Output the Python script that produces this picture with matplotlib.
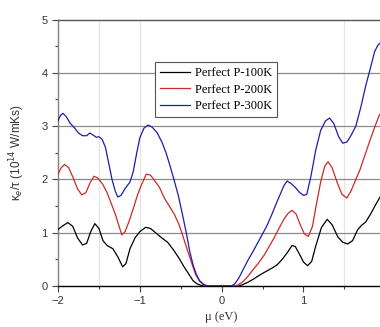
import matplotlib
matplotlib.use("Agg")
import matplotlib.pyplot as plt

# Electronic thermal conductivity (kappa_e / tau) vs chemical potential
mu_100 = [-2.00, -1.95, -1.88, -1.82, -1.76, -1.70, -1.65, -1.60, -1.55, -1.50,
          -1.45, -1.40, -1.33, -1.27, -1.21, -1.17, -1.12, -1.06, -1.00, -0.93,
          -0.87, -0.80, -0.73, -0.66, -0.59, -0.52, -0.46, -0.40, -0.35, -0.30,
          -0.25, -0.20, 0.20, 0.25, 0.32, 0.40, 0.47, 0.55, 0.62, 0.68,
          0.74, 0.80, 0.86, 0.90, 0.95, 1.00, 1.05, 1.10, 1.15, 1.22,
          1.29, 1.35, 1.42, 1.48, 1.54, 1.60, 1.66, 1.71, 1.76, 1.82,
          1.88, 1.94]
k_100 = [1.06, 1.12, 1.19, 1.12, 0.90, 0.77, 0.80, 1.02, 1.17, 1.08,
         0.85, 0.76, 0.70, 0.55, 0.36, 0.42, 0.70, 0.90, 1.02, 1.10,
         1.08, 0.99, 0.90, 0.82, 0.68, 0.52, 0.36, 0.22, 0.10, 0.04,
         0.01, 0.00, 0.00, 0.02, 0.07, 0.14, 0.21, 0.28, 0.34, 0.40,
         0.50, 0.62, 0.76, 0.74, 0.60, 0.45, 0.38, 0.46, 0.75, 1.10,
         1.25, 1.15, 0.92, 0.82, 0.79, 0.85, 1.05, 1.14, 1.20, 1.35,
         1.52, 1.68]

mu_200 = [-2.00, -1.96, -1.92, -1.87, -1.82, -1.76, -1.71, -1.66, -1.61, -1.56,
          -1.51, -1.45, -1.40, -1.35, -1.30, -1.26, -1.22, -1.18, -1.13, -1.08,
          -1.03, -0.98, -0.92, -0.87, -0.82, -0.76, -0.70, -0.64, -0.58, -0.52,
          -0.47, -0.42, -0.37, -0.32, -0.27, -0.22, -0.17, 0.15, 0.20, 0.26,
          0.32, 0.38, 0.45, 0.52, 0.58, 0.64, 0.70, 0.76, 0.81, 0.86,
          0.91, 0.96, 1.01, 1.06, 1.11, 1.16, 1.21, 1.26, 1.30, 1.35,
          1.41, 1.47, 1.53, 1.58, 1.64, 1.69, 1.75, 1.81, 1.87, 1.93]
k_200 = [2.10, 2.22, 2.28, 2.22, 2.05, 1.82, 1.71, 1.75, 1.93, 2.06,
         2.02, 1.90, 1.75, 1.55, 1.35, 1.15, 0.96, 1.02, 1.22, 1.45,
         1.70, 1.90, 2.10, 2.08, 1.98, 1.85, 1.65, 1.50, 1.35, 1.15,
         0.92, 0.68, 0.45, 0.22, 0.09, 0.02, 0.00, 0.00, 0.02, 0.08,
         0.18, 0.30, 0.43, 0.58, 0.74, 0.90, 1.08, 1.25, 1.36, 1.42,
         1.35, 1.15, 0.98, 0.93, 1.12, 1.55, 1.95, 2.25, 2.33, 2.22,
         1.95, 1.72, 1.65, 1.78, 2.00, 2.18, 2.45, 2.72, 2.98, 3.22]

mu_300 = [-2.00, -1.97, -1.94, -1.90, -1.85, -1.80, -1.75, -1.70, -1.65, -1.61,
          -1.57, -1.53, -1.50, -1.46, -1.42, -1.38, -1.34, -1.30, -1.27, -1.23,
          -1.18, -1.12, -1.08, -1.04, -1.00, -0.95, -0.90, -0.85, -0.79, -0.73,
          -0.68, -0.63, -0.58, -0.53, -0.48, -0.43, -0.39, -0.35, -0.31, -0.27,
          -0.22, -0.17, 0.12, 0.16, 0.21, 0.26, 0.32, 0.38, 0.43, 0.49,
          0.55, 0.61, 0.66, 0.71, 0.76, 0.80, 0.85, 0.90, 0.95, 1.00,
          1.04, 1.09, 1.15, 1.21, 1.27, 1.32, 1.37, 1.43, 1.48, 1.53,
          1.58, 1.64, 1.70, 1.76, 1.82, 1.87, 1.91, 1.94]
k_300 = [3.10, 3.20, 3.24, 3.18, 3.05, 2.97, 2.87, 2.82, 2.82, 2.87,
         2.83, 2.79, 2.80, 2.75, 2.60, 2.30, 2.00, 1.78, 1.67, 1.70,
         1.83, 1.95, 2.15, 2.48, 2.78, 2.96, 3.02, 2.98, 2.88, 2.70,
         2.50, 2.25, 1.98, 1.70, 1.35, 0.98, 0.65, 0.40, 0.22, 0.10,
         0.03, 0.00, 0.00, 0.04, 0.15, 0.30, 0.48, 0.64, 0.78, 0.95,
         1.12, 1.33, 1.52, 1.70, 1.88, 1.97, 1.92, 1.85, 1.76, 1.70,
         1.72, 2.05, 2.55, 2.92, 3.10, 3.15, 3.05, 2.80, 2.68, 2.70,
         2.82, 3.00, 3.35, 3.75, 4.10, 4.40, 4.52, 4.56]

series_labels = ["Perfect P-100K", "Perfect P-200K", "Perfect P-300K"]
x_ticks = [-2, -1, 0, 1]
y_ticks = [0, 1, 2, 3, 4, 5]

fig = plt.figure(figsize=(3.8, 3.27), dpi=100)
ax = fig.add_axes([58 / 380, 1 - 286 / 327, 327.3 / 380, 266.5 / 327])

# background grid
for yv in [1, 2, 3, 4]:
    ax.axhline(yv, color="#8a8a8a", lw=0.9, zorder=1)
for xv in [-1.5, -1.0, 1.5]:
    ax.axvline(xv, color="#e6e6e6", lw=0.9, zorder=0.5)

ax.plot(mu_100, k_100, color="black", lw=0.9, label=series_labels[0], zorder=3)
ax.plot(mu_200, k_200, color="#d02828", lw=0.9, label=series_labels[1], zorder=3)
ax.plot(mu_300, k_300, color="#1c1cb0", lw=0.9, label=series_labels[2], zorder=3)

ax.set_xlim(-2, 2)
ax.set_ylim(0, 5)
ax.set_xticks(x_ticks)
ax.set_yticks(y_ticks)
ax.set_xticks([-1.5, -0.5, 0.5, 1.5], minor=True)
ax.set_yticks([0.5, 1.5, 2.5, 3.5, 4.5], minor=True)
ax.tick_params(axis="both", which="major", direction="out", length=4, width=0.8,
               colors="#444444", labelsize=8, labelcolor="#333333")
ax.tick_params(axis="both", which="minor", direction="out", length=2.5, width=0.8,
               colors="#444444")
for lab in ax.get_xticklabels() + ax.get_yticklabels():
    lab.set_fontfamily("Liberation Sans")

ax.spines["left"].set_color("#808080")
ax.spines["bottom"].set_color("black")
ax.spines["top"].set_color("#555555")
ax.spines["right"].set_visible(False)
for s in ["left", "bottom", "top"]:
    ax.spines[s].set_linewidth(1.0)

ax.set_xlabel("μ (eV)", fontsize=9, family="Liberation Serif",
              color="#333333", labelpad=3)
ax.set_ylabel(r"κ$_e$/τ (10$^{14}$ W/mKs)", fontsize=8.5,
              family=["Liberation Sans", "DejaVu Sans"], color="#333333",
              labelpad=10)

leg = ax.legend(loc="upper left", bbox_to_anchor=(0.296, 0.84),
                prop={"family": "Liberation Serif", "size": 9},
                frameon=True, fancybox=False, handlelength=2.4,
                handletextpad=0.4, borderpad=0.4, labelspacing=0.35,
                borderaxespad=0)
leg.get_frame().set_edgecolor("#555555")
leg.get_frame().set_linewidth(0.8)
leg.get_frame().set_alpha(1)
leg.set_zorder(5)

fig.savefig("out.png", dpi=100)
